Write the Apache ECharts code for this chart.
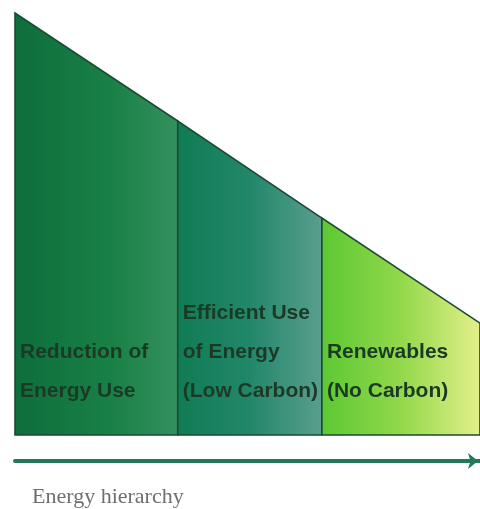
<!DOCTYPE html>
<html>
<head>
<meta charset="utf-8">
<script src="https://cdn.jsdelivr.net/npm/echarts@6/dist/echarts.min.js"></script>
<style>
html,body{margin:0;padding:0;background:#fff;}
#c{width:480px;height:509px;}
</style>
</head>
<body>
<div id="c"></div>
<script>
// Sections of the energy hierarchy (left to right)
const sections = ['Reduction of\nEnergy Use', 'Efficient Use\nof Energy\n(Low Carbon)', 'Renewables\n(No Carbon)'];
// Section boundaries along the hierarchy axis (percent of width)
const boundaries = [0, 35, 66, 100];
// Height of the shape at each boundary (percent of max)
const heights = [100, 74.4, 51.4, 26.5];
const caption = 'Energy hierarchy';

const gradients = [
  [['0', '#0e6d3c'], ['0.6', '#198146'], ['1', '#35905f']],
  [['0', '#0f7c54'], ['0.5', '#22876a'], ['1', '#5a9e8e']],
  [['0', '#5cc833'], ['0.5', '#92d84b'], ['1', '#e4f08a']]
];

const data = sections.map((s, i) => [boundaries[i], boundaries[i + 1], heights[i], heights[i + 1], i]);

const chart = echarts.init(document.getElementById('c'), null, {renderer: 'canvas'});
chart.setOption({
  backgroundColor: '#ffffff',
  animation: false,
  title: {
    text: caption,
    left: 32,
    top: 486,
    padding: 0,
    textStyle: {fontFamily: 'Liberation Serif', fontSize: 22, fontWeight: 'normal', color: '#6e6e6e'}
  },
  grid: {left: 15, right: 0, top: 13, bottom: 74},
  xAxis: {
    type: 'value', min: 0, max: 100,
    offset: 26,
    axisLabel: {show: false}, axisTick: {show: false}, splitLine: {show: false},
    axisLine: {
      show: true, onZero: false,
      symbol: ['none', 'arrow'], symbolSize: [12, 10], symbolOffset: [0, -2],
      lineStyle: {color: '#23775a', width: 4}
    }
  },
  yAxis: {type: 'value', min: 0, max: 100, show: false},
  series: [{
    type: 'custom',
    data: data,
    renderItem: function (params, api) {
      const x0 = api.value(0), x1 = api.value(1), h0 = api.value(2), h1 = api.value(3);
      const idx = api.value(4);
      const p0 = api.coord([x0, 0]), p1 = api.coord([x0, h0]), p2 = api.coord([x1, h1]), p3 = api.coord([x1, 0]);
      const stops = gradients[idx].map(s => ({offset: +s[0], color: s[1]}));
      return {
        type: 'group',
        children: [
          {
            type: 'polygon',
            shape: {points: [p0, p1, p2, p3]},
            style: {fill: new echarts.graphic.LinearGradient(0, 0, 1, 0, stops), stroke: '#1b4a31', lineWidth: 1.6}
          },
          {
            type: 'text',
            x: p0[0] + 5,
            y: p0[1] - 24,
            style: {
              text: sections[idx],
              fontFamily: 'Liberation Sans', fontSize: 21, fontWeight: 'bold',
              fill: '#1b3a26', lineHeight: 39,
              align: 'left', verticalAlign: 'bottom'
            }
          }
        ]
      };
    }
  }]
});
</script>
</body>
</html>
